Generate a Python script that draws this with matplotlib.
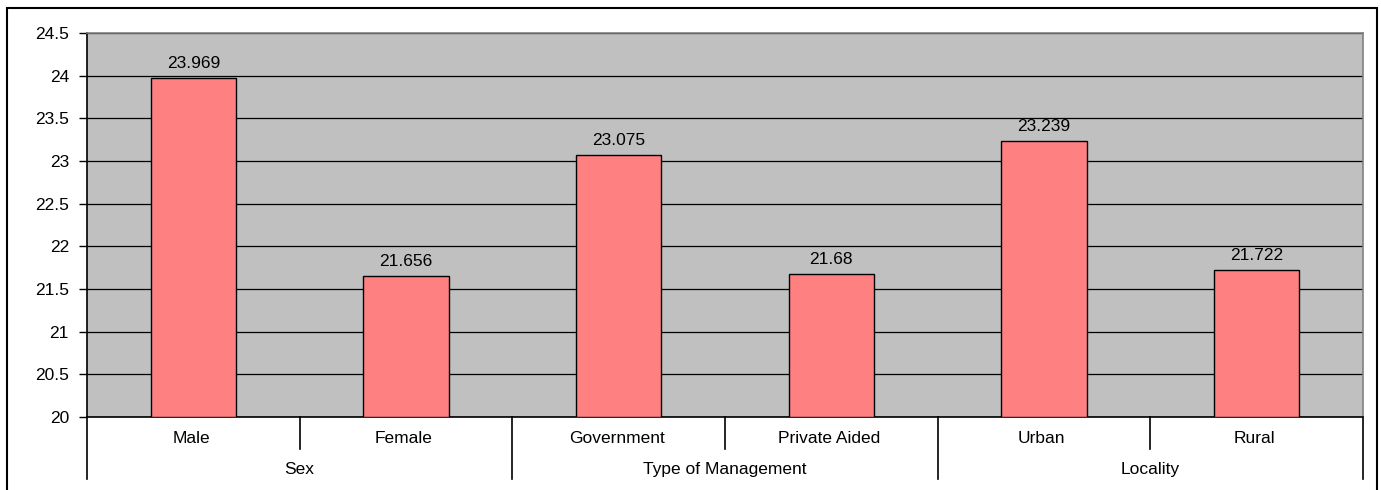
import matplotlib
matplotlib.use('Agg')
import matplotlib.pyplot as plt
from matplotlib.patches import Rectangle

categories = ['Male', 'Female', 'Government', 'Private Aided', 'Urban', 'Rural']
values = [23.969, 21.656, 23.075, 21.68, 23.239, 21.722]
groups = ['Sex', 'Type of Management', 'Locality']
group_sizes = [2, 2, 2]
yticks = [20, 20.5, 21, 21.5, 22, 22.5, 23, 23.5, 24, 24.5]

plt.rcParams['font.family'] = ['Liberation Sans', 'DejaVu Sans']
FS = 12.5

W, H = 1381, 490
fig = plt.figure(figsize=(W / 100, H / 100), dpi=100)
# plot area in pixels: left 87, right 1363, top 33, bottom 417
ax = fig.add_axes([87 / W, 1 - 417 / H, (1363 - 87) / W, (417 - 33) / H])
ax.set_facecolor('#C0C0C0')

x = [i + 0.5 for i in range(len(categories))]
ax.bar(x, [v - 20 for v in values], bottom=20, width=0.4, color='#FF8080',
       edgecolor='black', linewidth=1, zorder=3)
for xi, v in zip(x, values):
    ax.annotate(f'{v:g}', (xi, v), xytext=(0, 5), textcoords='offset points',
                ha='center', va='bottom', fontsize=FS)

ax.set_xlim(0, len(categories))
ax.set_ylim(20, 24.5)
ax.set_yticks(yticks)
ax.set_yticklabels([f'{t:g}' for t in yticks], fontsize=FS)
ax.tick_params(axis='y', length=6, width=1, pad=7, direction='out')
ax.set_xticks([])
ax.yaxis.grid(True, color='black', linewidth=0.9, zorder=1)
ax.set_axisbelow(True)

for s in ['left', 'bottom']:
    ax.spines[s].set_color('black')
    ax.spines[s].set_linewidth(1.2)
for s in ['top', 'right']:
    ax.spines[s].set_color('#808080')
    ax.spines[s].set_linewidth(1.2)

# category and group labels below the axis
px = 1 / (417 - 33)
tr = ax.get_xaxis_transform()
for xi, c in zip(x, categories):
    ax.text(xi - 0.01, -21 * px, c, transform=tr, ha='center', va='center', fontsize=FS)

pos = 0
bounds = [0]
for g, n in zip(groups, group_sizes):
    ax.text(pos + n / 2, -52 * px, g, transform=tr, ha='center', va='center', fontsize=FS)
    for k in range(1, n):
        ax.plot([pos + k, pos + k], [0, -32 * px], transform=tr, color='black',
                linewidth=1.2, clip_on=False)
    pos += n
    bounds.append(pos)
for b in bounds:
    ax.plot([b, b], [0, -62 * px], transform=tr, color='black', linewidth=1.2, clip_on=False)

# outer chart border
fig.patches.append(Rectangle((7 / W, -0.01), (1377 - 7) / W, 1 - 8 / H + 0.01,
                             transform=fig.transFigure, fill=False,
                             edgecolor='black', linewidth=1.5))

plt.savefig('out.png', dpi=100)
plt.close()
